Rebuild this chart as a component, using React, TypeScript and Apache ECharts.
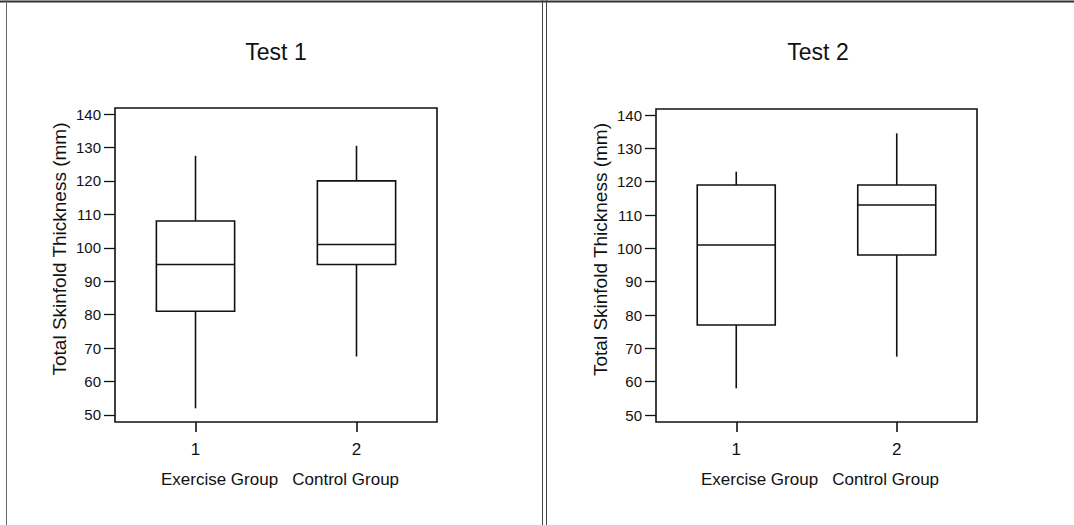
import React, { useEffect, useRef } from "react";
import * as echarts from "echarts";

const categories = ["1", "2"];
const groupLabel = "Exercise Group   Control Group";
const panelTitles = ["Test 1", "Test 2"];
const yAxisTitle = "Total Skinfold Thickness (mm)";
const yTicks = [50, 60, 70, 80, 90, 100, 110, 120, 130, 140];

// Test 1: [Exercise, Control]
const test1Min = [52, 67.5];
const test1Q1 = [81, 95];
const test1Median = [95, 101];
const test1Q3 = [108, 120];
const test1Max = [127.5, 130.5];

// Test 2: [Exercise, Control]
const test2Min = [58, 67.5];
const test2Q1 = [77, 98];
const test2Median = [101, 113];
const test2Q3 = [119, 119];
const test2Max = [123, 134.5];

const FONT = "'Liberation Sans', Arial, sans-serif";
const INK = "#111";

function buildRows(mn: number[], q1: number[], md: number[], q3: number[], mx: number[]) {
  return categories.map((_, i) => [i, mn[i], q1[i], md[i], q3[i], mx[i]]);
}

function renderBox(params: any, api: any) {
  const x = api.value(0);
  const pMin = api.coord([x, api.value(1)]);
  const pQ1 = api.coord([x, api.value(2)]);
  const pMed = api.coord([x, api.value(3)]);
  const pQ3 = api.coord([x, api.value(4)]);
  const pMax = api.coord([x, api.value(5)]);
  const band = api.size([1, 0])[0];
  const half = band * 0.243;
  const cx = pMed[0];
  const ls = { stroke: INK, lineWidth: 1.6, fill: null };
  return {
    type: "group",
    children: [
      { type: "line", shape: { x1: cx, y1: pQ3[1], x2: cx, y2: pMax[1] }, style: ls },
      { type: "line", shape: { x1: cx, y1: pQ1[1], x2: cx, y2: pMin[1] }, style: ls },
      {
        type: "rect",
        shape: { x: cx - half, y: pQ3[1], width: half * 2, height: pQ1[1] - pQ3[1] },
        style: { stroke: INK, lineWidth: 1.6, fill: "#fff" },
      },
      { type: "line", shape: { x1: cx - half, y1: pMed[1], x2: cx + half, y2: pMed[1] }, style: ls },
    ],
  };
}

export default function App() {
  const ref = useRef<HTMLDivElement>(null);
  useEffect(() => {
    if (!ref.current) return;
    const chart = echarts.init(ref.current, null, { renderer: "svg" });
    const grids = [
      { left: 115, top: 108, width: 322, height: 314 },
      { left: 656, top: 109, width: 321, height: 313 },
    ];
    const titleCenters = [271, 813];
    const nameCenters = [280, 820];
    const mkX = (gi: number) => ({
      type: "category",
      gridIndex: gi,
      data: categories,
      boundaryGap: true,
      axisLine: { show: false },
      axisTick: { show: true, alignWithLabel: true, length: 10, lineStyle: { color: INK, width: 1.6 } },
      axisLabel: { margin: 19, color: INK, fontSize: 17, fontFamily: FONT },
      splitLine: { show: false },
      name: groupLabel,
      nameLocation: "middle",
      nameGap: 49,
      nameTextStyle: {
        color: INK,
        fontSize: 17,
        fontFamily: FONT,
        padding: [0, 0, 0, (nameCenters[gi] - (grids[gi].left + grids[gi].width / 2)) * 2],
      },
    });
    const mkY = (gi: number) => ({
      type: "value",
      gridIndex: gi,
      min: 47.9,
      max: 141.8,
      axisLine: { show: false },
      axisTick: { show: true, length: 11, customValues: yTicks, lineStyle: { color: INK, width: 1.3 } },
      axisLabel: { customValues: yTicks, margin: 14, color: INK, fontSize: 15, fontFamily: FONT },
      splitLine: { show: false },
      name: yAxisTitle,
      nameLocation: "middle",
      nameGap: 46,
      nameTextStyle: { color: INK, fontSize: 19, fontFamily: FONT, padding: [0, 0, 0, 32] },
    });
    chart.setOption({
      animation: false,
      backgroundColor: "#fff",
      title: panelTitles.map((t, i) => ({
        text: t,
        left: titleCenters[i],
        top: 35,
        textAlign: "center",
        textStyle: { color: INK, fontSize: 23, fontWeight: "normal", fontFamily: FONT },
      })),
      grid: grids.map((g) => ({ ...g, show: true, borderColor: INK, borderWidth: 1.6, backgroundColor: "#fff" })),
      xAxis: [mkX(0), mkX(1)],
      yAxis: [mkY(0), mkY(1)],
      graphic: [
        { type: "line", shape: { x1: 0, y1: 1.5, x2: 1074, y2: 1.5 }, style: { stroke: "#333", lineWidth: 2 } },
        { type: "line", shape: { x1: 6.5, y1: 0, x2: 6.5, y2: 525 }, style: { stroke: "#666", lineWidth: 1 } },
        { type: "line", shape: { x1: 542.5, y1: 0, x2: 542.5, y2: 525 }, style: { stroke: "#444", lineWidth: 1 } },
        { type: "line", shape: { x1: 546.5, y1: 0, x2: 546.5, y2: 525 }, style: { stroke: "#444", lineWidth: 1 } },
      ],
      series: [
        {
          type: "custom",
          name: "Test 1",
          xAxisIndex: 0,
          yAxisIndex: 0,
          renderItem: renderBox,
          encode: { x: 0, y: [1, 2, 3, 4, 5] },
          data: buildRows(test1Min, test1Q1, test1Median, test1Q3, test1Max),
        },
        {
          type: "custom",
          name: "Test 2",
          xAxisIndex: 1,
          yAxisIndex: 1,
          renderItem: renderBox,
          encode: { x: 0, y: [1, 2, 3, 4, 5] },
          data: buildRows(test2Min, test2Q1, test2Median, test2Q3, test2Max),
        },
      ],
    });
    return () => chart.dispose();
  }, []);
  return (
    <div
      ref={ref}
      style={{ position: "fixed", left: 0, top: 0, width: 1074, height: 525, background: "#fff" }}
    />
  );
}
